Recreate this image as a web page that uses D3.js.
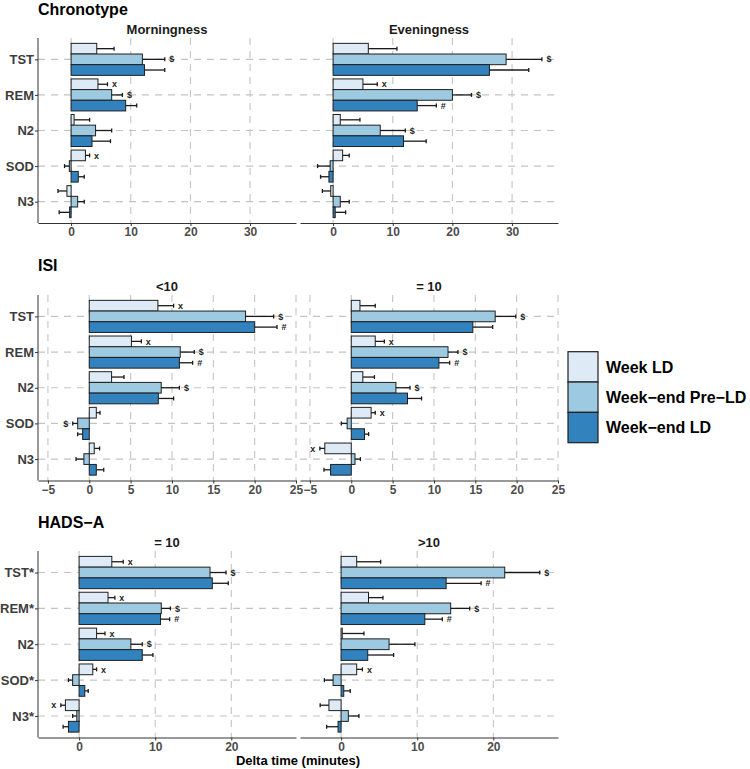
<!DOCTYPE html>
<html>
<head>
<meta charset="utf-8">
<script src="https://cdn.jsdelivr.net/npm/d3@7"></script>
<style>
  html, body { margin: 0; padding: 0; background: #ffffff; }
  svg { display: block; font-family: "Liberation Sans", Arial, Helvetica, sans-serif; }
</style>
</head>
<body>
<svg id="chart" width="750" height="769"></svg>
<script>
// ---------- DATA ----------
const seriesNames = ["Week LD", "Week\u2212end Pre\u2212LD", "Week\u2212end LD"];
const seriesColors = ["#DEEBF7", "#9ECAE1", "#3182BD"];

const chronoCats = ["TST", "REM", "N2", "SOD", "N3"];
const isiCats = ["TST", "REM", "N2", "SOD", "N3"];
const hadsCats = ["TST*", "REM*", "N2", "SOD*", "N3*"];

const chronoTicks = [0, 10, 20, 30];
const isiTicks = [-5, 0, 5, 10, 15, 20, 25];
const hadsTicks = [0, 10, 20];

const chronoDomain = [-5.55, 37.7];
const isiDomain = [-6.2, 25.0];
const hadsDomain = [-5.4, 28.5];

// Chronotype - Morningness
const mornWeekLD = [4.3, 4.5, 0.5, 2.4, -0.7];
const mornWeekLDse = [2.9, 1.6, 2.6, 0.7, 1.5];
const mornWeekLDsig = ["", "x", "", "x", ""];
const mornPreLD = [11.95, 6.8, 4.1, -0.3, 1.1];
const mornPreLDse = [3.75, 1.8, 2.7, 0.8, 1.1];
const mornPreLDsig = ["$", "$", "", "", ""];
const mornLD = [12.3, 9.15, 3.5, 1.2, -0.25];
const mornLDse = [3.4, 1.85, 3.1, 1.0, 1.75];
const mornLDsig = ["", "", "", "", ""];

// Chronotype - Eveningness
const eveWeekLD = [5.9, 5.0, 1.2, 1.6, -0.4];
const eveWeekLDse = [4.8, 2.4, 3.3, 1.1, 1.4];
const eveWeekLDsig = ["", "x", "", "", ""];
const evePreLD = [29.0, 20.0, 7.9, -0.5, 1.2];
const evePreLDse = [6.0, 3.2, 4.2, 2.1, 1.5];
const evePreLDsig = ["$", "$", "$", "", ""];
const eveLD = [26.2, 14.1, 11.8, -0.7, 0.35];
const eveLDse = [6.6, 3.2, 3.8, 1.4, 1.75];
const eveLDsig = ["", "#", "", "", ""];

// ISI <10
const isiLowWeekLD = [8.3, 5.1, 2.7, 0.85, 0.6];
const isiLowWeekLDse = [1.9, 1.2, 1.5, 0.45, 0.65];
const isiLowWeekLDsig = ["x", "x", "", "", ""];
const isiLowPreLD = [18.9, 11.0, 8.7, -1.4, -0.65];
const isiLowPreLDse = [3.4, 1.7, 2.2, 0.6, 0.95];
const isiLowPreLDsig = ["$", "$", "$", "$", ""];
const isiLowLD = [20.0, 10.9, 8.35, -0.8, 0.85];
const isiLowLDse = [2.7, 1.6, 1.85, 0.6, 0.9];
const isiLowLDsig = ["#", "#", "", "", ""];

// ISI = 10
const isiHighWeekLD = [1.05, 2.9, 1.4, 2.4, -3.2];
const isiHighWeekLDse = [1.85, 1.1, 1.4, 0.5, 0.6];
const isiHighWeekLDsig = ["", "x", "", "x", "x"];
const isiHighPreLD = [17.4, 11.7, 5.4, -0.5, 0.45];
const isiHighPreLDse = [2.5, 1.2, 1.7, 0.7, 0.65];
const isiHighPreLDsig = ["$", "$", "$", "", ""];
const isiHighLD = [14.7, 10.6, 6.8, 1.6, -2.5];
const isiHighLDse = [2.4, 1.3, 1.7, 0.5, 0.8];
const isiHighLDsig = ["", "#", "", "", ""];

// HADS-A = 10
const hadsLowWeekLD = [4.3, 3.8, 2.3, 1.8, -1.8];
const hadsLowWeekLDse = [1.5, 0.9, 1.1, 0.5, 0.6];
const hadsLowWeekLDsig = ["x", "x", "x", "x", "x"];
const hadsLowPreLD = [17.2, 10.8, 6.8, -0.85, -0.3];
const hadsLowPreLDse = [2.1, 1.2, 1.5, 0.55, 0.55];
const hadsLowPreLDsig = ["$", "$", "$", "", ""];
const hadsLowLD = [17.5, 10.7, 8.3, 0.75, -1.4];
const hadsLowLDse = [2.1, 1.2, 1.4, 0.45, 0.7];
const hadsLowLDsig = ["", "#", "", "", ""];

// HADS-A >10
const hadsHighWeekLD = [2.05, 3.6, 0.15, 2.05, -1.6];
const hadsHighWeekLDse = [3.15, 1.9, 2.85, 0.75, 1.15];
const hadsHighWeekLDsig = ["", "", "", "x", ""];
const hadsHighPreLD = [21.5, 14.4, 6.3, -1.05, 0.95];
const hadsHighPreLDse = [4.6, 2.5, 3.4, 1.15, 1.4];
const hadsHighPreLDsig = ["$", "$", "", "", ""];
const hadsHighLD = [13.8, 11.0, 3.5, 0.35, -0.4];
const hadsHighLDse = [4.6, 2.3, 3.4, 0.85, 1.5];
const hadsHighLDsig = ["#", "#", "", "", ""];

// ---------- LAYOUT ----------
const svg = d3.select("#chart");
const colX = [[38, 296], [300, 558]];

const rows = [
  { title: "Chronotype", titleY: 14.5, top: 38, bottom: 223, domain: chronoDomain, ticks: chronoTicks, cats: chronoCats,
    panels: [
      { strip: "Morningness", vals: [mornWeekLD, mornPreLD, mornLD], se: [mornWeekLDse, mornPreLDse, mornLDse], sig: [mornWeekLDsig, mornPreLDsig, mornLDsig] },
      { strip: "Eveningness", vals: [eveWeekLD, evePreLD, eveLD], se: [eveWeekLDse, evePreLDse, eveLDse], sig: [eveWeekLDsig, evePreLDsig, eveLDsig] }
    ] },
  { title: "ISI", titleY: 271, top: 295, bottom: 480.5, domain: isiDomain, ticks: isiTicks, cats: isiCats,
    panels: [
      { strip: "<10", vals: [isiLowWeekLD, isiLowPreLD, isiLowLD], se: [isiLowWeekLDse, isiLowPreLDse, isiLowLDse], sig: [isiLowWeekLDsig, isiLowPreLDsig, isiLowLDsig] },
      { strip: "= 10", vals: [isiHighWeekLD, isiHighPreLD, isiHighLD], se: [isiHighWeekLDse, isiHighPreLDse, isiHighLDse], sig: [isiHighWeekLDsig, isiHighPreLDsig, isiHighLDsig] }
    ] },
  { title: "HADS\u2212A", titleY: 527.5, top: 551, bottom: 737.5, domain: hadsDomain, ticks: hadsTicks, cats: hadsCats,
    panels: [
      { strip: "= 10", vals: [hadsLowWeekLD, hadsLowPreLD, hadsLowLD], se: [hadsLowWeekLDse, hadsLowPreLDse, hadsLowLDse], sig: [hadsLowWeekLDsig, hadsLowPreLDsig, hadsLowLDsig] },
      { strip: ">10", vals: [hadsHighWeekLD, hadsHighPreLD, hadsHighLD], se: [hadsHighWeekLDse, hadsHighPreLDse, hadsHighLDse], sig: [hadsHighWeekLDsig, hadsHighPreLDsig, hadsHighLDsig] }
    ] }
];

const gridColor = "#c4c4c4";
const axisColor = "#333333";
const tickTextColor = "#4d4d4d";

rows.forEach(row => {
  // row title
  svg.append("text")
    .attr("x", 38).attr("y", row.titleY)
    .attr("font-size", 16).attr("font-weight", "bold").attr("fill", "#000")
    .text(row.title);

  const y = d3.scalePoint().domain(row.cats).range([row.top, row.bottom]).padding(0.6);
  const step = y.step();
  const ySub = d3.scaleBand().domain(seriesNames).range([-0.45 * step, 0.45 * step]);

  row.panels.forEach((p, pi) => {
    const [x0, x1] = colX[pi];
    const x = d3.scaleLinear().domain(row.domain).range([x0, x1]);
    const g = svg.append("g");

    // strip text
    g.append("text")
      .attr("x", (x0 + x1) / 2).attr("y", row.top - 4.5)
      .attr("text-anchor", "middle")
      .attr("font-size", 13).attr("font-weight", "bold").attr("fill", "#1a1a1a")
      .text(p.strip);

    // grid
    const grid = g.append("g").attr("stroke", gridColor).attr("stroke-width", 1.1)
      .attr("stroke-dasharray", "7,6").attr("fill", "none");
    grid.selectAll("line.v").data(row.ticks).join("line")
      .attr("class", "v")
      .attr("x1", d => x(d)).attr("x2", d => x(d))
      .attr("y1", row.top).attr("y2", row.bottom);
    grid.selectAll("line.h").data(row.cats).join("line")
      .attr("class", "h")
      .attr("x1", x0).attr("x2", x1)
      .attr("y1", d => y(d)).attr("y2", d => y(d));

    // bars
    const recs = [];
    seriesNames.forEach((s, si) => {
      row.cats.forEach((c, ci) => {
        recs.push({ s, si, c, v: p.vals[si][ci], se: p.se[si][ci], sig: p.sig[si][ci] });
      });
    });

    g.append("g").selectAll("rect").data(recs).join("rect")
      .attr("x", d => Math.min(x(0), x(d.v)))
      .attr("width", d => Math.abs(x(d.v) - x(0)))
      .attr("y", d => y(d.c) + ySub(d.s))
      .attr("height", ySub.bandwidth())
      .attr("fill", d => seriesColors[d.si])
      .attr("stroke", "#1f1f1f").attr("stroke-width", 1);

    // error bars
    const eb = g.append("g").attr("stroke", "#1a1a1a").attr("stroke-width", 1.3);
    recs.forEach(d => {
      const cy = y(d.c) + ySub(d.s) + ySub.bandwidth() / 2;
      const end = d.v >= 0 ? d.v + d.se : d.v - d.se;
      eb.append("line").attr("x1", x(d.v)).attr("x2", x(end)).attr("y1", cy).attr("y2", cy);
      eb.append("line").attr("x1", x(end)).attr("x2", x(end)).attr("y1", cy - 2).attr("y2", cy + 2);
    });

    // significance labels
    g.append("g").selectAll("text").data(recs.filter(d => d.sig)).join("text")
      .attr("x", d => {
        const end = d.v >= 0 ? d.v + d.se : d.v - d.se;
        return x(end) + (d.v >= 0 ? 7 : -7);
      })
      .attr("y", d => y(d.c) + ySub(d.s) + ySub.bandwidth() / 2)
      .attr("dy", "0.35em")
      .attr("text-anchor", "middle")
      .attr("font-size", 9).attr("font-weight", "bold").attr("fill", "#222")
      .text(d => d.sig);

    // x axis
    const xa = g.append("g").attr("transform", `translate(0,${row.bottom})`)
      .call(d3.axisBottom(x).tickValues(row.ticks).tickSize(3).tickSizeOuter(0).tickPadding(1.5));
    xa.select(".domain").attr("stroke", axisColor).attr("stroke-width", 1);
    xa.selectAll(".tick line").attr("stroke", axisColor);
    xa.selectAll(".tick text").attr("font-size", 12).attr("font-weight", "bold")
      .attr("fill", tickTextColor).attr("font-family", "Liberation Sans, Arial, sans-serif");

    // y axis (left panel only)
    if (pi === 0) {
      const ya = g.append("g").attr("transform", `translate(${x0},0)`)
        .call(d3.axisLeft(y).tickSize(3).tickSizeOuter(0).tickPadding(1));
      ya.select(".domain").attr("stroke", axisColor).attr("stroke-width", 1)
        .attr("d", `M0,${row.top}V${row.bottom}`);
      ya.selectAll(".tick line").attr("stroke", axisColor);
      ya.selectAll(".tick text").attr("font-size", 13).attr("font-weight", "bold")
        .attr("fill", "#3d3d3d").attr("font-family", "Liberation Sans, Arial, sans-serif");
    }
  });
});

// x axis title
svg.append("text")
  .attr("x", (38 + 558) / 2).attr("y", 765)
  .attr("text-anchor", "middle")
  .attr("font-size", 13).attr("font-weight", "bold").attr("fill", "#000")
  .text("Delta time (minutes)");

// legend
const legY = d3.scaleBand().domain(seriesNames).range([351.7, 442.7]);
const leg = svg.append("g");
leg.selectAll("rect").data(seriesNames).join("rect")
  .attr("x", 568).attr("y", d => legY(d))
  .attr("width", 30).attr("height", legY.bandwidth())
  .attr("fill", (d, i) => seriesColors[i])
  .attr("stroke", "#1f1f1f").attr("stroke-width", 1.2);
leg.selectAll("text").data(seriesNames).join("text")
  .attr("x", 606).attr("y", d => legY(d) + legY.bandwidth() / 2)
  .attr("dy", "0.36em")
  .attr("font-size", 16).attr("font-weight", "bold").attr("fill", "#000")
  .text(d => d);
</script>
</body>
</html>
